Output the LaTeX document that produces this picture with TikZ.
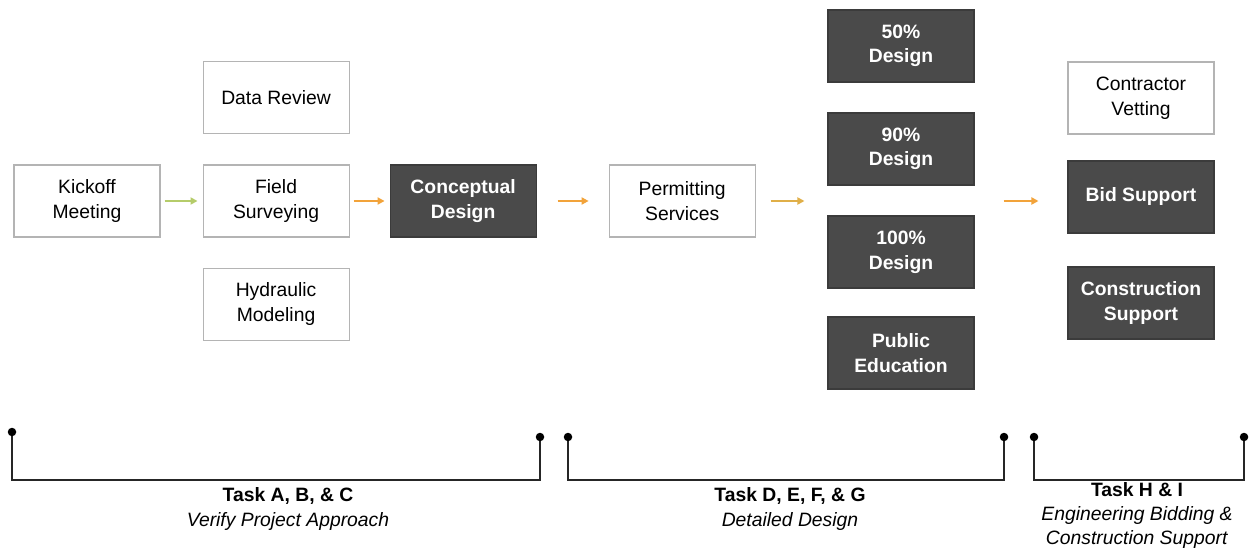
\documentclass[tikz,border=0pt]{standalone}
\usepackage{fontspec}
\setmainfont{Liberation Sans}
\usetikzlibrary{positioning,arrows.meta}

\definecolor{boxdark}{HTML}{4A4A4A}
\definecolor{boxline}{HTML}{B4B4B4}
\definecolor{flowor}{HTML}{F2A33A}
\definecolor{flowgr}{HTML}{B5CC6A}

\begin{document}
\begin{tikzpicture}[
    taskbox/.style={rectangle,draw=boxline,line width=0.6pt,fill=white,
      minimum width=2.92cm,minimum height=1.44cm,align=center,inner sep=1pt},
    darkbox/.style={taskbox,draw=boxdark!80!black,fill=boxdark,text=white,font=\fontsize{11}{14}\selectfont\bfseries},
    flow/.style={-{Triangle[length=4pt,width=4pt]},line width=1.3pt,draw=flowor},
    bracket/.style={line width=1.1pt,draw=black!85},
    tasklabel/.style={align=center,font=\fontsize{11}{13.7}\selectfont},
    font=\fontsize{11}{14}\selectfont,
    node distance=0.84cm
    ]

    \useasboundingbox (0,0) rectangle (25.04,10.94);

    % verify project approach:
    \node (kick) at (1.74,6.92) [taskbox] {Kickoff\\Meeting};
    \node (field) [taskbox,right=of kick] {Field\\Surveying};
    \node (data) [taskbox,above=0.6cm of field] {Data Review};
    \node (hydr) [taskbox,below=0.6cm of field] {Hydraulic\\Modeling};
    \node (conc) [darkbox,right=0.8cm of field] {Conceptual\\Design};

    % detailed design:
    \node (perm) [taskbox,right=1.44cm of conc] {Permitting\\Services};

    \foreach \n/\y/\t in {d50/10.02/{50\%\\Design},d90/7.96/{90\%\\Design},
                          d100/5.90/{100\%\\Design},dpub/3.88/{Public\\Education}}
    \node (\n) at (18.02,\y) [darkbox] {\t};

    \coordinate (designin) at (d90.west |- perm.east);
    \coordinate (designout) at (d90.east |- perm.east);

    % bidding and construction:
    \node (vett) at (22.82,8.98) [taskbox] {Contractor\\Vetting};
    \node (bid) at (22.82,7.00) [darkbox] {Bid Support};
    \node (cons) at (22.82,4.88) [darkbox] {Construction\\Support};

    % connections:
    \draw [flow,draw=flowgr,shorten <=0.08cm,shorten >=0.1cm] (kick) -- (field);
    \draw [flow,shorten <=0.08cm,shorten >=0.1cm] (field) -- (conc);
    \draw [flow,shorten <=0.42cm,shorten >=0.4cm] (conc) -- (perm);
    \draw [flow,draw=flowor!70!flowgr,shorten <=0.3cm,shorten >=0.46cm] (perm) -- (designin);
    \draw [flow,shorten <=0.58cm,shorten >=0.58cm] (designout) -- (bid.west |- designout);

    % task brackets:
    \coordinate (l1) at (0.24,2.30);
    \coordinate (r1) at (10.80,2.20);
    \coordinate (l2) at (11.36,2.20);
    \coordinate (r2) at (20.08,2.20);
    \coordinate (l3) at (20.68,2.20);
    \coordinate (r3) at (24.88,2.20);

    \foreach \b in {1,2,3} {
      \draw [bracket] (l\b) -- (l\b |- 0,1.34) -- (r\b |- 0,1.34) -- (r\b);
      \fill [black] (l\b) circle (0.085);
      \fill [black] (r\b) circle (0.085);
    }

    \node (task1) at (5.76,0.76) [tasklabel] {\textbf{Task A, B, \& C}\\\textit{Verify Project Approach}};
    \node (task2) at (15.80,0.76) [tasklabel] {\textbf{Task D, E, F, \& G}\\\textit{Detailed Design}};
    \node (task3) at (22.74,0.63) [tasklabel] {\textbf{Task H \& I}\\\textit{Engineering Bidding \&}\\\textit{Construction Support}};

\end{tikzpicture}
\end{document}
